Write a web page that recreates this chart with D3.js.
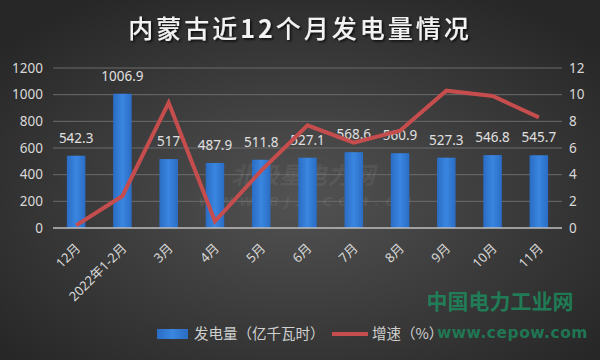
<!DOCTYPE html>
<html>
<head>
<meta charset="utf-8">
<script src="https://cdn.jsdelivr.net/npm/d3@7"></script>
<style>
  body { margin: 0; background: #2b2b2b; }
  svg { display: block; }
</style>
</head>
<body>
<div id="chart"></div>
<script>
const months = ["12月", "2022年1-2月", "3月", "4月", "5月", "6月", "7月", "8月", "9月", "10月", "11月"];
const output = [542.3, 1006.9, 517, 487.9, 511.8, 527.1, 568.6, 560.9, 527.3, 546.8, 545.7];
const growth = [0.2, 2.4, 9.4, 0.5, 4.3, 7.7, 6.4, 7.3, 10.3, 9.9, 8.3];
const leftTicks = [0, 200, 400, 600, 800, 1000, 1200];
const rightTicks = [0, 2, 4, 6, 8, 10, 12];

const W = 600, H = 360;
const margin = { top: 68, right: 38, bottom: 132, left: 53 },
    width = W - margin.left - margin.right,
    height = H - margin.top - margin.bottom;

const root = d3.select("#chart").append("svg")
    .attr("width", W)
    .attr("height", H);

// background gradient
const defs = root.append("defs");
const grad = defs.append("radialGradient")
    .attr("id", "bg")
    .attr("cx", "50%").attr("cy", "55%").attr("r", "65%");
grad.append("stop").attr("offset", "0%").attr("stop-color", "#525252");
grad.append("stop").attr("offset", "100%").attr("stop-color", "#272727");
const sh = defs.append("filter").attr("id", "shadow");
sh.append("feDropShadow").attr("dx", 1.5).attr("dy", 1.5).attr("stdDeviation", 1)
    .attr("flood-color", "#000").attr("flood-opacity", 0.8);

root.append("rect").attr("width", W).attr("height", H).attr("fill", "url(#bg)");

// title
const title = root.append("text")
    .attr("x", W / 2).attr("y", 38)
    .attr("text-anchor", "middle")
    .attr("font-family", "'Noto Sans CJK SC', sans-serif")
    .attr("font-size", 25)
    .attr("font-weight", 500)
    .attr("letter-spacing", 3)
    .attr("fill", "#f2f2f2")
    .attr("filter", "url(#shadow)");
title.append("tspan").text("内蒙古近");
title.append("tspan").attr("font-weight", "bold").text("12");
title.append("tspan").text("个月发电量情况");

const svg = root.append("g")
    .attr("transform", "translate(" + margin.left + "," + margin.top + ")");

const x = d3.scaleBand().domain(months).range([0, width]).paddingInner(0.6).paddingOuter(0.3);
const xc = d => x(d) + x.bandwidth() / 2;
const y = d3.scaleLinear().domain([0, 1200]).range([height, 0]);
const y2 = d3.scaleLinear().domain([0, 12]).range([height, 0]);

const font = "'Noto Sans', 'Noto Sans CJK SC', sans-serif";

// gridlines
svg.append("g")
    .selectAll("line")
    .data(leftTicks.slice(1))
    .enter().append("line")
    .attr("x1", 0).attr("x2", width)
    .attr("y1", d => y(d)).attr("y2", d => y(d))
    .attr("stroke", "#6b6b6b").attr("stroke-width", 1);

// left axis
const yAxis = svg.append("g")
    .call(d3.axisLeft(y).tickValues(leftTicks).tickFormat(d3.format("d")).tickSize(0).tickPadding(10));
yAxis.select(".domain").remove();
yAxis.selectAll("text").attr("font-size", 13.5).attr("font-family", font).attr("fill", "#d9d9d9");

// right axis
const yAxis2 = svg.append("g")
    .attr("transform", "translate(" + width + ",0)")
    .call(d3.axisRight(y2).tickValues(rightTicks).tickSize(0).tickPadding(7));
yAxis2.select(".domain").remove();
yAxis2.selectAll("text").attr("font-size", 13.5).attr("font-family", font).attr("fill", "#d9d9d9");

// watermark (middle, faint)
svg.append("text")
    .attr("x", 250).attr("y", 116)
    .attr("text-anchor", "middle")
    .attr("font-family", "'Noto Sans CJK SC', sans-serif")
    .attr("font-size", 24).attr("font-weight", "bold").attr("font-style", "italic")
    .attr("fill", "#ffffff").attr("fill-opacity", 0.07)
    .text("北极星电力网");
svg.append("text")
    .attr("x", 255).attr("y", 138)
    .attr("text-anchor", "middle")
    .attr("font-family", "'DejaVu Sans', sans-serif")
    .attr("font-size", 13).attr("font-weight", "bold").attr("font-style", "italic")
    .attr("letter-spacing", 6)
    .attr("fill", "#ffffff").attr("fill-opacity", 0.08)
    .text("WWW.BJX.COM.CN");

// bars
const barGrad = defs.append("linearGradient").attr("id", "bar")
    .attr("x1", "0").attr("x2", "1").attr("y1", "0").attr("y2", "0");
barGrad.append("stop").attr("offset", "0%").attr("stop-color", "#2a6cc4");
barGrad.append("stop").attr("offset", "50%").attr("stop-color", "#3a86e0");
barGrad.append("stop").attr("offset", "100%").attr("stop-color", "#2a6cc4");

svg.selectAll(".bar")
    .data(output)
    .enter().append("rect")
    .attr("class", "bar")
    .attr("x", (d, i) => x(months[i]))
    .attr("width", x.bandwidth())
    .attr("y", d => y(d))
    .attr("height", d => height - y(d))
    .attr("fill", "url(#bar)");

// bar labels
svg.selectAll(".lbl")
    .data(output)
    .enter().append("text")
    .attr("class", "lbl")
    .attr("x", (d, i) => xc(months[i]))
    .attr("y", d => y(d) - 13)
    .attr("text-anchor", "middle")
    .attr("font-family", font)
    .attr("font-size", 13.5)
    .attr("fill", "#e0e0e0")
    .text(d => d);

// baseline
svg.append("line")
    .attr("x1", 0).attr("x2", width)
    .attr("y1", height).attr("y2", height)
    .attr("stroke", "#bfbfbf").attr("stroke-width", 1.5);

// growth line
const line = d3.line()
    .x((d, i) => xc(months[i]))
    .y(d => y2(d));
svg.append("path")
    .datum(growth)
    .attr("d", line)
    .attr("fill", "none")
    .attr("stroke", "#c64d4d")
    .attr("stroke-width", 4)
    .attr("stroke-linejoin", "miter");

// x labels
svg.append("g")
    .selectAll("text")
    .data(months)
    .enter().append("text")
    .attr("transform", d => "translate(" + (xc(d) + 5) + "," + (height + 21) + ") rotate(-45)")
    .attr("text-anchor", "end")
    .attr("font-family", font)
    .attr("font-size", 13)
    .attr("fill", "#d9d9d9")
    .text(d => d);

// watermark bottom right
root.append("text")
    .attr("x", 500).attr("y", 309)
    .attr("text-anchor", "middle")
    .attr("font-family", "'Noto Sans CJK SC', sans-serif")
    .attr("font-size", 21).attr("font-weight", "bold")
    .attr("fill", "#1c8a5e").attr("fill-opacity", 0.85)
    .text("中国电力工业网");
root.append("text")
    .attr("x", 588).attr("y", 338)
    .attr("text-anchor", "end")
    .attr("font-family", "'DejaVu Sans', sans-serif")
    .attr("font-size", 15.5).attr("font-weight", "bold")
    .attr("letter-spacing", 0.5)
    .attr("fill", "#1c8a5e").attr("fill-opacity", 0.8)
    .text("www.cepow.com");

// legend
const lg = root.append("g").attr("transform", "translate(157,334)");
lg.append("rect").attr("x", 0).attr("y", -5).attr("width", 31).attr("height", 10).attr("fill", "url(#bar)");
lg.append("text").attr("x", 37).attr("y", 5)
    .attr("font-family", "'Noto Sans CJK SC', sans-serif").attr("font-size", 14.5)
    .attr("fill", "#d0d0d0").text("发电量（亿千瓦时）");
lg.append("line").attr("x1", 175).attr("x2", 211).attr("y1", 0).attr("y2", 0)
    .attr("stroke", "#c64d4d").attr("stroke-width", 4);
lg.append("text").attr("x", 215).attr("y", 5)
    .attr("font-family", "'Noto Sans CJK SC', sans-serif").attr("font-size", 14.5)
    .attr("fill", "#d0d0d0").text("增速（%）");
</script>
</body>
</html>
